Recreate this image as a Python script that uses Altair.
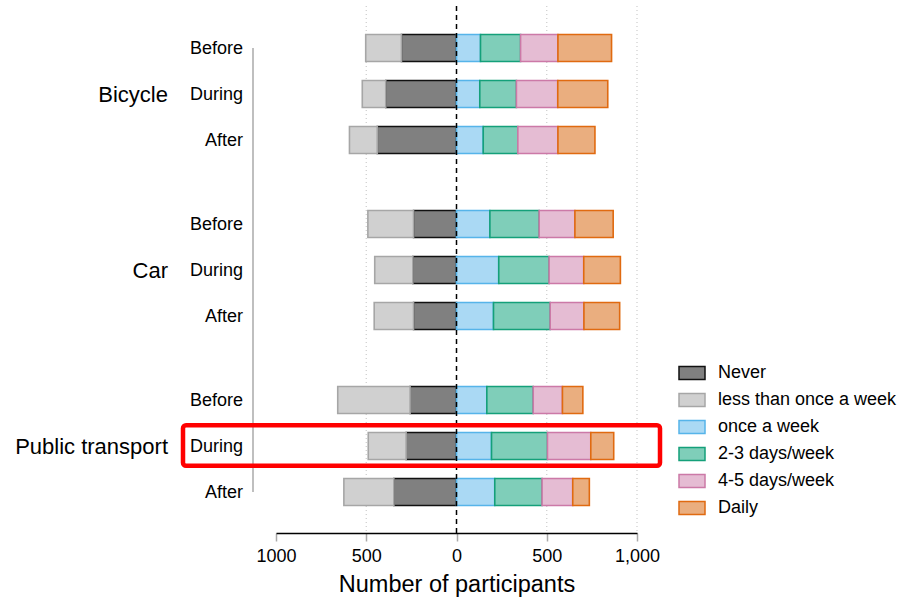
import altair as alt
import pandas as pd

# Participants per travel frequency, by mode and period
modes = ["Bicycle", "Car", "Public transport"]
periods = ["Before", "During", "After"]

never = [305, 392, 439, 238, 242, 238, 257, 279, 347]
less_weekly = [198, 130, 154, 253, 211, 218, 401, 210, 277]
once_week = [133, 129, 148, 185, 234, 205, 168, 194, 212]
days_2_3 = [222, 203, 192, 273, 279, 314, 257, 310, 262]
days_4_5 = [207, 229, 222, 198, 192, 187, 162, 240, 170]
daily = [297, 277, 205, 212, 203, 198, 113, 127, 92]

freq_names = ["Never", "less than once a week", "once a week",
              "2-3 days/week", "4-5 days/week", "Daily"]
fill_colors = ["#808080", "#d0d0d0", "#aad9f4", "#7fceb9", "#e5bcd3", "#eaae7f"]
stroke_colors = ["#111111", "#a6a6a6", "#56b4e9", "#14a07a", "#cc79a7", "#e06a10"]

GROUP_STEP = 3.826   # row units between the first rows of consecutive modes
HALF_BAR = 0.293     # half bar thickness in row units

rows = []
for i in range(9):
    g, p = divmod(i, 3)
    pos = g * GROUP_STEP + p
    # "Never" and "less than once a week" extend to the left of zero
    left = [("Never", never[i]), ("less than once a week", less_weekly[i])]
    right = [("once a week", once_week[i]), ("2-3 days/week", days_2_3[i]),
             ("4-5 days/week", days_4_5[i]), ("Daily", daily[i])]
    acc = 0
    for name, v in left:
        rows.append(dict(mode=modes[g], period=periods[p], freq=name,
                         start=-acc, end=-(acc + v), pos=pos))
        acc += v
    acc = 0
    for name, v in right:
        rows.append(dict(mode=modes[g], period=periods[p], freq=name,
                         start=acc, end=acc + v, pos=pos))
        acc += v
bars_df = pd.DataFrame(rows)
bars_df["y_lo"] = bars_df["pos"] - HALF_BAR
bars_df["y_hi"] = bars_df["pos"] + HALF_BAR

labels_df = pd.DataFrame(
    [dict(mode=modes[i // 3], period=periods[i % 3],
          pos=(i // 3) * GROUP_STEP + i % 3) for i in range(9)]
)
groups_df = pd.DataFrame(
    [dict(mode=m, pos=g * GROUP_STEP + 1) for g, m in enumerate(modes)]
)
highlight_df = pd.DataFrame([dict(pos=2 * GROUP_STEP + 1)])
grid_df = pd.DataFrame({"x": [-500, 500, 1000]})
zero_df = pd.DataFrame({"x": [0]})
spine_df = pd.DataFrame({"top": [0.0], "bottom": [2 * GROUP_STEP + 2]})

FONT = "Liberation Sans"
yscale = alt.Scale(domain=[-0.913, 10.543], reverse=True, nice=False, zero=False)
xscale = alt.Scale(domain=[-1000, 1000], nice=False, zero=False)

x_axis = alt.Axis(
    values=[-1000, -500, 0, 500, 1000],
    labelExpr="datum.value == 1000 ? '1,000' : format(abs(datum.value), 'd')",
    title="Number of participants",
    grid=False, domainColor="black", domainWidth=1.5,
    tickColor="#aaaaaa", tickSize=8, tickWidth=1.5,
    labelFontSize=18, titleFontSize=23.5, labelPadding=6,
    titlePadding=7, titleFontWeight="normal", labelFlush=False,
    labelColor="black", titleColor="black", labelFont=FONT, titleFont=FONT,
)

legend_opts = dict(
    title=None, orient="none", legendX=402, legendY=353,
    symbolType="M-1,-0.5H1V0.5H-1Z", symbolSize=676,
    symbolStrokeWidth=1.5, labelFontSize=18, labelOffset=12,
    rowPadding=3, padding=0, labelFont=FONT, labelColor="black",
    labelLimit=0,
)

grid = alt.Chart(grid_df).mark_rule(
    color="#cccccc", strokeDash=[1, 3], strokeWidth=1.2
).encode(x=alt.X("x:Q", scale=xscale, axis=x_axis))

bars = alt.Chart(bars_df).mark_rect(strokeWidth=1.6).encode(
    x=alt.X("start:Q", scale=xscale, axis=x_axis),
    x2="end:Q",
    y=alt.Y("y_lo:Q", scale=yscale, axis=None),
    y2="y_hi:Q",
    fill=alt.Fill(
        "freq:N",
        scale=alt.Scale(domain=freq_names, range=fill_colors),
        legend=alt.Legend(**legend_opts),
    ),
    stroke=alt.Stroke(
        "freq:N",
        scale=alt.Scale(domain=freq_names, range=stroke_colors),
        legend=alt.Legend(**legend_opts),
    ),
)

zero = alt.Chart(zero_df).mark_rule(
    color="black", strokeDash=[5, 4], strokeWidth=1.5
).encode(x=alt.X("x:Q", scale=xscale, axis=x_axis))

spine = alt.Chart(spine_df).mark_rule(color="#aaaaaa", strokeWidth=1.5).encode(
    x=alt.value(-23),
    y=alt.Y("top:Q", scale=yscale, axis=None),
    y2="bottom:Q",
)

period_text = alt.Chart(labels_df).mark_text(
    align="right", baseline="middle", fontSize=18, font=FONT, color="black",
    dy=1,
).encode(x=alt.value(-33), y=alt.Y("pos:Q", scale=yscale, axis=None),
         text="period:N")

group_text = alt.Chart(groups_df).mark_text(
    align="right", baseline="middle", fontSize=22, font=FONT, color="black",
    dy=1,
).encode(x=alt.value(-108), y=alt.Y("pos:Q", scale=yscale, axis=None),
         text="mode:N")

highlight = alt.Chart(highlight_df).mark_rect(
    fill=None, stroke="#ff0000", strokeWidth=4.5, cornerRadius=3
).encode(
    x=alt.value(-93),
    x2=alt.value(384),
    y=alt.Y("lo:Q", scale=yscale, axis=None),
    y2="hi:Q",
).transform_calculate(lo="datum.pos - 0.45", hi="datum.pos + 0.43")

chart = alt.layer(
    grid, bars, zero, spine, period_text, group_text, highlight
).properties(
    width=361, height=527,
    autosize=alt.AutoSizeParams(type="none"),
    padding={"left": 276, "top": 6, "right": 263, "bottom": 64},
).configure(font=FONT).configure_view(stroke=None)

chart.save("out.html", embed_options={"renderer": "svg", "actions": False})
